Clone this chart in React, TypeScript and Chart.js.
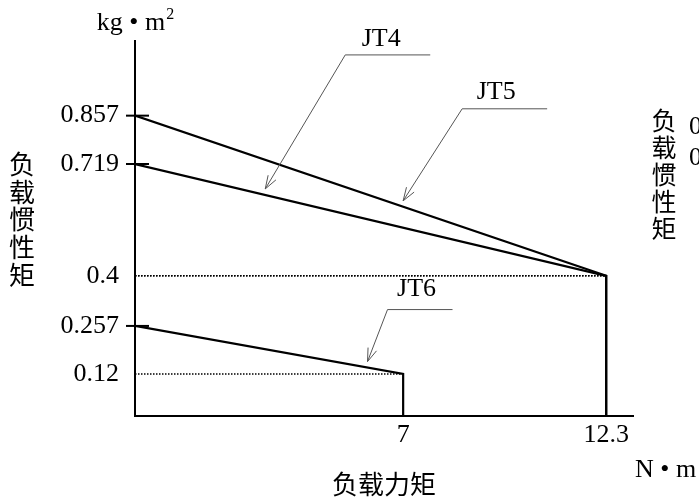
import { useEffect, useRef } from 'react';
import { Chart, registerables } from 'chart.js';

Chart.register(...registerables);

// ---- data ----
const seriesNames = ['JT4', 'JT5', 'JT6'];
const inertiaAtZeroTorque = [0.719, 0.857, 0.257];
const inertiaAtRatedTorque = [0.4, 0.4, 0.12];
const ratedTorque = [12.3, 12.3, 7];
const yTickValues = [0.12, 0.257, 0.4, 0.719, 0.857];
const yTickLabels = ['0.12', '0.257', '0.4', '0.719', '0.857'];
const yTickMarks = [0.257, 0.719, 0.857];
const xTickValues = [7, 12.3];
const xTickLabels = ['7', '12.3'];
const pointerAtTorque = [3.4, 7.0, 6.07];
const xTitle = '负载力矩';
const yTitle = '负载惯性矩';
const xUnit = 'N • m';
const yUnit = 'kg • m';
const yUnitExp = '2';
const rightEdgeLabels = ['0.857', '0.719'];

const SERIF = "'Liberation Serif', 'Times New Roman', serif";
const CJK = "'Noto Sans CJK SC', 'Noto Sans', sans-serif";

// annotation leader geometry (pixels relative to the pointer tip)
const leaderStyle = [
  { gap: 6, dx: 80, dy: -134, leg: 85, lx: 36, ly: -16 },
  { gap: 6, dx: 59, dy: -92, leg: 85, lx: 34, ly: -17 },
  { gap: 6, dx: 20, dy: -52, leg: 65, lx: 29, ly: -20 },
];

const overlay = {
  id: 'overlay',
  afterDraw(chart: any) {
    const { ctx, chartArea } = chart;
    const x = chart.scales.x;
    const y = chart.scales.y;
    ctx.save();

    // tick marks crossing the y axis
    ctx.strokeStyle = '#000';
    ctx.lineWidth = 2;
    yTickMarks.forEach((v) => {
      const py = y.getPixelForValue(v);
      ctx.beginPath();
      ctx.moveTo(chartArea.left - 9, py);
      ctx.lineTo(chartArea.left + 14, py);
      ctx.stroke();
    });

    // annotation pointers
    ctx.strokeStyle = '#555';
    ctx.lineWidth = 1;
    seriesNames.forEach((name, i) => {
      const t = pointerAtTorque[i];
      const val =
        inertiaAtZeroTorque[i] +
        ((inertiaAtRatedTorque[i] - inertiaAtZeroTorque[i]) * t) / ratedTorque[i];
      const s = leaderStyle[i];
      const tx = x.getPixelForValue(t);
      const ty = y.getPixelForValue(val) - s.gap;
      const ex = tx + s.dx;
      const ey = ty + s.dy;
      ctx.beginPath();
      ctx.moveTo(tx, ty);
      ctx.lineTo(ex, ey);
      ctx.lineTo(ex + s.leg, ey);
      ctx.stroke();
      const ang = Math.atan2(s.dy, s.dx);
      ctx.beginPath();
      ctx.moveTo(tx + 14 * Math.cos(ang + 0.33), ty + 14 * Math.sin(ang + 0.33));
      ctx.lineTo(tx, ty);
      ctx.lineTo(tx + 14 * Math.cos(ang - 0.33), ty + 14 * Math.sin(ang - 0.33));
      ctx.stroke();
      ctx.fillStyle = '#000';
      ctx.font = `26px ${SERIF}`;
      ctx.textAlign = 'center';
      ctx.textBaseline = 'middle';
      ctx.fillText(name, ex + s.lx, ey + s.ly);
    });

    ctx.fillStyle = '#000';
    // y unit
    ctx.font = `26px ${SERIF}`;
    ctx.textAlign = 'left';
    ctx.textBaseline = 'alphabetic';
    const uw = ctx.measureText(yUnit).width;
    ctx.font = `16px ${SERIF}`;
    const ew = ctx.measureText(yUnitExp).width;
    const ux = chartArea.left - (uw + ew) / 2;
    ctx.font = `26px ${SERIF}`;
    ctx.fillText(yUnit, ux, 30);
    ctx.font = `16px ${SERIF}`;
    ctx.fillText(yUnitExp, ux + uw + 1, 19);

    // x unit
    ctx.font = `26px ${SERIF}`;
    ctx.fillText(xUnit, chartArea.right + 2, 477);

    // x title
    ctx.font = `26px ${CJK}`;
    ctx.textAlign = 'center';
    ctx.textBaseline = 'middle';
    ctx.fillText(xTitle, (chartArea.left + chartArea.right) / 2, 484);

    // y title (left, stacked)
    const chars = Array.from(yTitle);
    chars.forEach((c, k) => ctx.fillText(c, 22, 164 + k * 27.7));
    // right-side stacked copy
    ctx.font = `25px ${CJK}`;
    chars.forEach((c, k) => ctx.fillText(c, 664, 120 + k * 27));

    // cropped right edge labels
    ctx.font = `26px ${SERIF}`;
    ctx.textAlign = 'left';
    rightEdgeLabels.forEach((lab, k) => {
      ctx.fillText(lab, 689, k === 0 ? 127 : 158);
    });

    ctx.restore();
  },
};

export default function App() {
  const ref = useRef<HTMLCanvasElement | null>(null);

  useEffect(() => {
    document.body.style.margin = '0';
    const canvas = ref.current;
    if (!canvas) return;

    const solid = seriesNames.map((name, i) => ({
      label: name,
      data: [
        { x: 0, y: inertiaAtZeroTorque[i] },
        { x: ratedTorque[i], y: inertiaAtRatedTorque[i] },
        { x: ratedTorque[i], y: 0 },
      ],
      borderColor: '#000',
      borderWidth: 2.2,
      pointRadius: 0,
      tension: 0,
      fill: false,
      order: 1,
    }));
    const dotted = seriesNames.map((name, i) => ({
      label: name + ' ref',
      data: [
        { x: 0, y: inertiaAtRatedTorque[i] },
        { x: ratedTorque[i], y: inertiaAtRatedTorque[i] },
      ],
      borderColor: '#000',
      borderWidth: 1.5,
      borderDash: [1.5, 1.5],
      pointRadius: 0,
      tension: 0,
      fill: false,
      order: 2,
    }));

    const chart = new Chart(canvas, {
      type: 'line',
      data: { datasets: [...dotted, ...solid] as any },
      options: {
        animation: false,
        responsive: false,
        events: [],
        layout: { padding: { top: 41, right: 66, left: 0, bottom: 0 } },
        plugins: { legend: { display: false }, tooltip: { enabled: false } },
        scales: {
          x: {
            type: 'linear',
            min: 0,
            max: 13.0,
            afterBuildTicks: (axis: any) => {
              axis.ticks = xTickValues.map((v) => ({ value: v }));
            },
            afterFit: (axis: any) => {
              axis.height = 83;
            },
            ticks: {
              autoSkip: false,
              maxRotation: 0,
              padding: 4,
              color: '#000',
              font: { family: SERIF, size: 26 },
              callback: (v: any) => {
                const idx = xTickValues.indexOf(Number(v));
                return idx >= 0 ? xTickLabels[idx] : '';
              },
            },
            grid: { display: true, drawOnChartArea: false, drawTicks: false, color: 'rgba(0,0,0,0)' },
            border: { display: true, color: '#000', width: 2 },
          },
          y: {
            type: 'linear',
            min: 0,
            max: 1.07,
            afterBuildTicks: (axis: any) => {
              axis.ticks = yTickValues.map((v) => ({ value: v }));
            },
            afterFit: (axis: any) => {
              axis.width = 135;
            },
            ticks: {
              autoSkip: false,
              padding: 16,
              color: '#000',
              font: { family: SERIF, size: 26 },
              callback: (v: any) => {
                const idx = yTickValues.indexOf(Number(v));
                return idx >= 0 ? yTickLabels[idx] : '';
              },
            },
            grid: { display: true, drawOnChartArea: false, drawTicks: false, color: 'rgba(0,0,0,0)' },
            border: { display: true, color: '#000', width: 2 },
          },
        },
      },
      plugins: [overlay],
    });

    return () => chart.destroy();
  }, []);

  return (
    <div style={{ position: 'absolute', left: 0, top: 0, width: 699, height: 499, background: '#fff' }}>
      <canvas ref={ref} width={699} height={499} style={{ display: 'block' }} />
    </div>
  );
}
